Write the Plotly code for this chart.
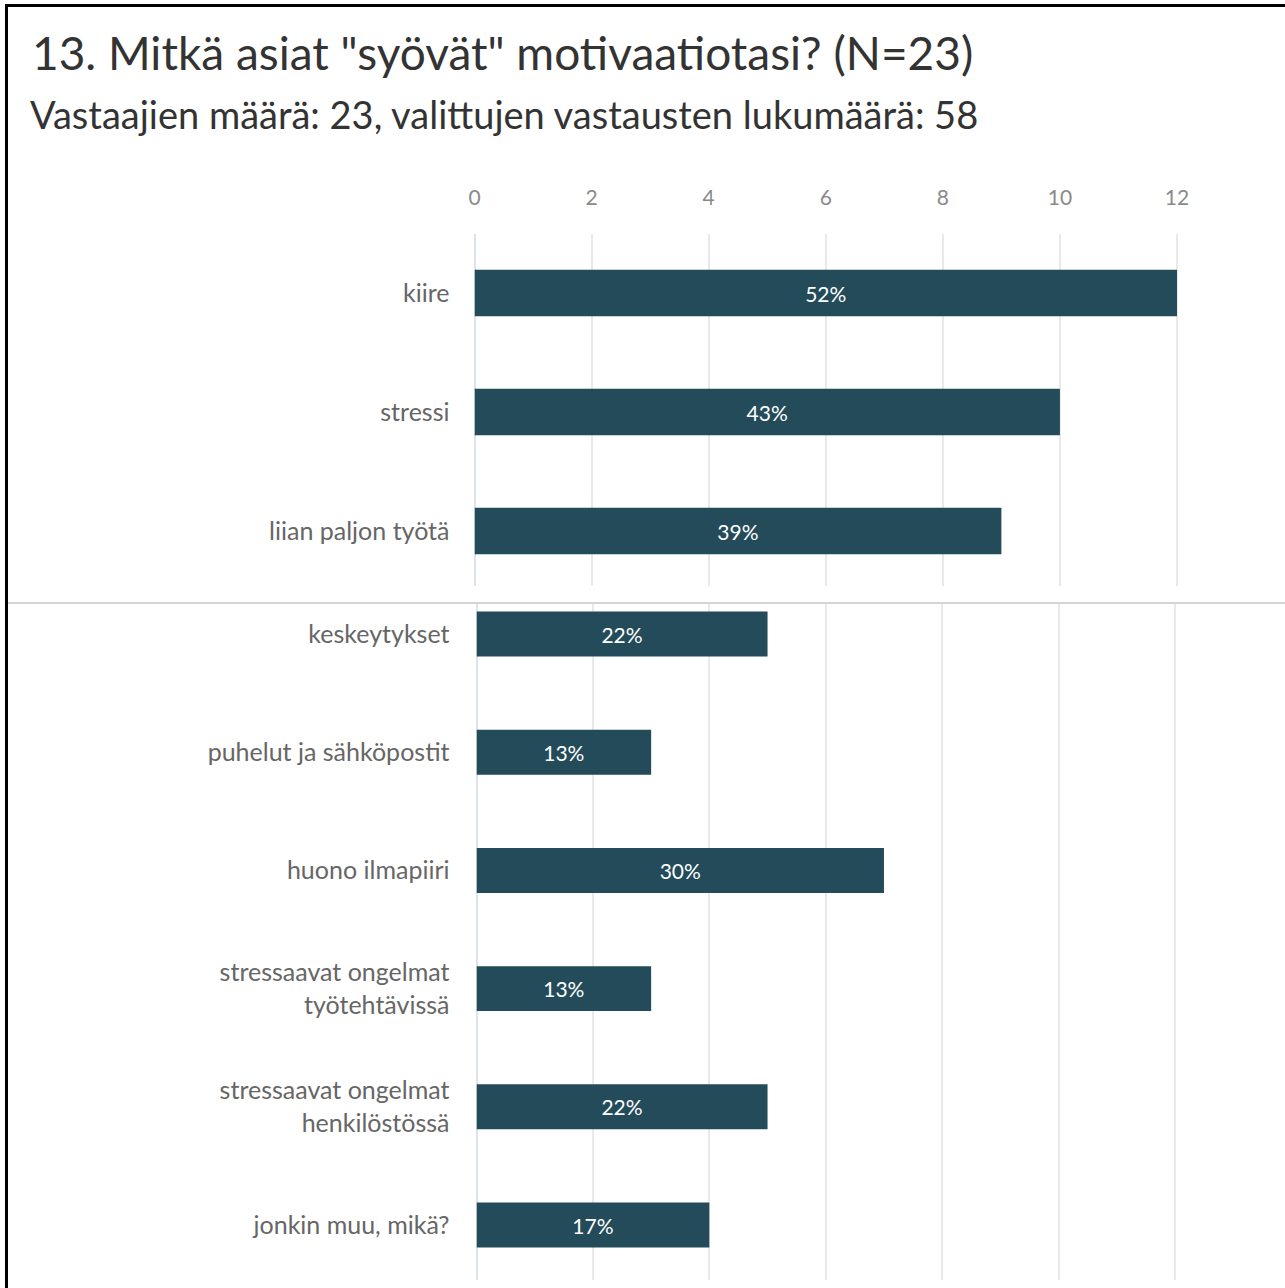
import plotly.graph_objects as go

W, H = 1285, 1288

title = '13. Mitkä asiat "syövät" motivaatiotasi? (N=23)'
subtitle = 'Vastaajien määrä: 23, valittujen vastausten lukumäärä: 58'

top_cats = ["kiire", "stressi", "liian paljon työtä"]
top_vals = [12, 10, 9]
top_pcts = ["52%", "43%", "39%"]

bot_cats = ["keskeytykset", "puhelut ja sähköpostit", "huono ilmapiiri",
            "stressaavat ongelmat<br>työtehtävissä",
            "stressaavat ongelmat<br>henkilöstössä", "jonkin muu, mikä?"]
bot_vals = [5, 3, 7, 3, 5, 4]
bot_pcts = ["22%", "13%", "30%", "13%", "22%", "17%"]

tick_vals = [0, 2, 4, 6, 8, 10, 12]

BAR = "#234b5a"
FONT = "Lato"

def px(x):
    return x / W

def py(y):
    return 1 - y / H

fig = go.Figure()
fig.add_trace(go.Bar(
    x=top_vals, y=top_cats, orientation="h", text=top_pcts,
    textposition="inside", insidetextanchor="middle",
    textfont=dict(family=FONT, size=21, color="white"),
    marker=dict(color=BAR, line=dict(width=0)), width=0.39,
    xaxis="x", yaxis="y", hoverinfo="skip"))
fig.add_trace(go.Bar(
    x=bot_vals, y=bot_cats, orientation="h", text=bot_pcts,
    textposition="inside", insidetextanchor="middle",
    textfont=dict(family=FONT, size=21, color="white"),
    marker=dict(color=BAR, line=dict(width=0)), width=0.38,
    xaxis="x2", yaxis="y2", hoverinfo="skip"))

grid = "#e9e9e9"
zero = "#dde3ee"

x0t, s_t = 474.5, (1177 - 474.5) / 12
x0b, s_b = 476.5, (1175 - 476.5) / 12

fig.update_layout(
    template="none",
    width=W, height=H, autosize=False,
    margin=dict(l=0, r=0, t=0, b=0, pad=0, autoexpand=False),
    paper_bgcolor="white", plot_bgcolor="white",
    showlegend=False,
    font=dict(family=FONT, color="#666666"),
    xaxis=dict(domain=[px(x0t), 1], range=[0, (W - x0t) / s_t],
               anchor="y", side="top", tickvals=tick_vals, automargin=False,
               showgrid=True, gridcolor=grid, gridwidth=2,
               zeroline=True, zerolinecolor=zero, zerolinewidth=2,
               showline=False, ticks="", ticklabelstandoff=24,
               tickfont=dict(family=FONT, size=21, color="#8a8a8a")),
    yaxis=dict(domain=[py(586), py(234)], range=[2.462, -0.496],
               anchor="x", type="category", showgrid=False, zeroline=False,
               ticks="", ticklabelstandoff=24, automargin=False,
               tickfont=dict(family=FONT, size=25, color="#666666")),
    xaxis2=dict(domain=[px(x0b), 1], range=[0, (W - x0b) / s_b],
                anchor="y2", tickvals=tick_vals, showticklabels=False,
                showgrid=True, gridcolor=grid, gridwidth=2, automargin=False,
                zeroline=True, zerolinecolor=zero, zerolinewidth=2,
                showline=False, ticks=""),
    yaxis2=dict(domain=[py(1280), py(604)], range=[5.465, -0.254],
                anchor="x2", type="category", showgrid=False, zeroline=False,
                ticks="", ticklabelstandoff=26, automargin=False,
                tickfont=dict(family=FONT, size=25, color="#666666")),
)

fig.add_annotation(text=title, xref="paper", yref="paper", x=px(30), y=py(52),
                   xanchor="left", yanchor="middle", showarrow=False,
                   font=dict(family=FONT, size=46, color="#333333"))
fig.add_annotation(text=subtitle, xref="paper", yref="paper", x=px(28), y=py(114),
                   xanchor="left", yanchor="middle", showarrow=False,
                   font=dict(family=FONT, size=38, color="#333333"))

fig.add_shape(type="line", xref="paper", yref="paper", x0=px(5), x1=1,
              y0=py(5.5), y1=py(5.5), line=dict(color="black", width=3))
fig.add_shape(type="line", xref="paper", yref="paper", x0=px(6.5), x1=px(6.5),
              y0=py(4), y1=0, line=dict(color="black", width=3))
fig.add_shape(type="line", xref="paper", yref="paper", x0=px(8), x1=1,
              y0=py(603), y1=py(603), line=dict(color="#d4d4d4", width=2))

fig.write_html("out.html", config={"displayModeBar": False, "responsive": False},
               post_script="document.body.style.margin='0';document.body.style.overflow='hidden';")
